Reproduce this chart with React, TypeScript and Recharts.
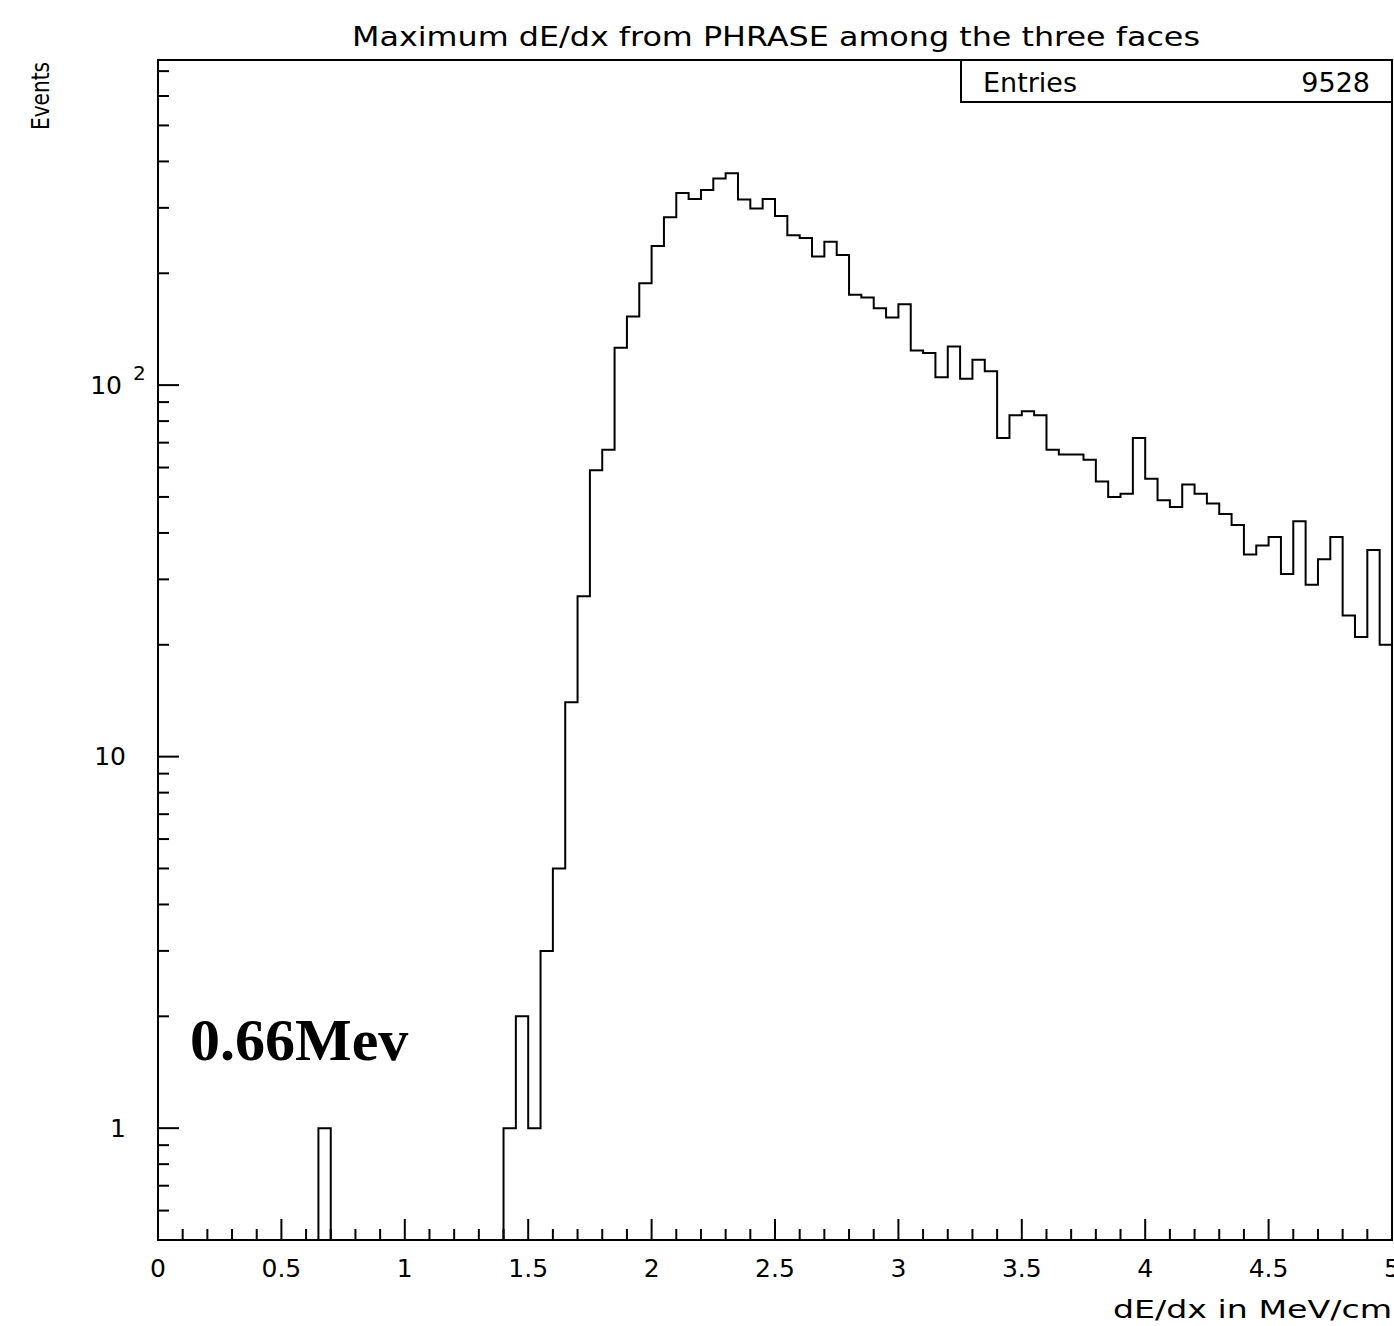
import { ComposedChart, Line, XAxis, YAxis, ReferenceArea } from 'recharts';

const TITLE = 'Maximum dE/dx from PHRASE among the three faces';
const X_LABEL = 'dE/dx in MeV/cm';
const Y_LABEL = 'Events';
const NOTE = '0.66Mev';
const ENTRIES = 9528;

// 100 bins of 0.05 from 0 to 5
const BIN_WIDTH = 0.05;
const COUNTS = [
  0, 0, 0, 0, 0, 0, 0, 0, 0, 0, // 0.00 - 0.50
  0, 0, 0, 1, 0, 0, 0, 0, 0, 0, // 0.50 - 1.00
  0, 0, 0, 0, 0, 0, 0, 0, 1, 2, // 1.00 - 1.50
  1, 3, 5, 14, 27, 59, 67, 126, 153, 188, // 1.50 - 2.00
  237, 283, 329, 317, 335, 360, 372, 316, 299, 317, // 2.00 - 2.50
  285, 253, 249, 222, 243, 224, 175, 172, 161, 152, // 2.50 - 3.00
  165, 124, 122, 105, 127, 104, 117, 109, 72, 83, // 3.00 - 3.50
  85, 83, 67, 65, 65, 63, 55, 50, 51, 72, // 3.50 - 4.00
  56, 49, 47, 54, 51, 48, 45, 42, 35, 37, // 4.00 - 4.50
  39, 31, 43, 29, 34, 39, 24, 21, 36, 20, // 4.50 - 5.00
];

const X_MAJOR = [0, 0.5, 1, 1.5, 2, 2.5, 3, 3.5, 4, 4.5, 5];
const X_MAJOR_LABELS = ['0', '0.5', '1', '1.5', '2', '2.5', '3', '3.5', '4', '4.5', '5'];
const X_TICKS = Array.from({ length: 51 }, (_, i) => i / 10);

const Y_MIN = 0.5;
const Y_MAX = 750;
const Y_MAJOR = [1, 10, 100];
const Y_TICKS = [
  0.6, 0.7, 0.8, 0.9, 1, 2, 3, 4, 5, 6, 7, 8, 9, 10,
  20, 30, 40, 50, 60, 70, 80, 90, 100, 200, 300, 400, 500, 600, 700,
];

const FONT = '"DejaVu Sans", sans-serif';

// step outline: one point per bin low edge, plus the upper edge of the last bin
const data = COUNTS.map((c, i) => ({ x: +(i * BIN_WIDTH).toFixed(2), y: Math.max(c, Y_MIN) }));
data.push({ x: 5, y: Math.max(COUNTS[COUNTS.length - 1], Y_MIN) });

function XTick(props: any) {
  const { x, y, payload } = props;
  const v = payload.value;
  const idx = X_MAJOR.findIndex((m) => Math.abs(m - v) < 1e-6);
  const major = idx >= 0;
  return (
    <g>
      <line x1={x} x2={x} y1={y} y2={y - (major ? 21 : 11)} stroke="#000" strokeWidth={2} />
      {major && (
        <text x={x} y={y + 28} textAnchor="middle" dominantBaseline="central" fontFamily={FONT} fontSize={25}>
          {X_MAJOR_LABELS[idx]}
        </text>
      )}
    </g>
  );
}

function YTick(props: any) {
  const { x, y, payload } = props;
  const v = payload.value;
  const major = Y_MAJOR.includes(v);
  let label = null;
  if (v === 100) {
    label = (
      <g fontFamily={FONT} fontSize={25}>
        <text x={122} y={y} textAnchor="end" dominantBaseline="central">10</text>
        <text x={133} y={y - 12} dominantBaseline="central" fontSize={20}>2</text>
      </g>
    );
  } else if (major) {
    label = (
      <text x={126} y={y} textAnchor="end" dominantBaseline="central" fontFamily={FONT} fontSize={25}>
        {v}
      </text>
    );
  }
  return (
    <g>
      <line x1={x} x2={x + (major ? 21 : 11)} y1={y} y2={y} stroke="#000" strokeWidth={2} />
      {label}
    </g>
  );
}

export default function App() {
  return (
    <div style={{ position: 'absolute', left: 0, top: 0, width: 1394, height: 1326, background: '#fff' }}>
      <ComposedChart width={1394} height={1326} data={data} margin={{ top: 60, right: 2, bottom: 26, left: 8 }}>
        <XAxis
          dataKey="x"
          type="number"
          domain={[0, 5]}
          ticks={X_TICKS}
          interval={0}
          allowDataOverflow
          height={60}
          tickSize={0}
          tickMargin={0}
          tickLine={false}
          axisLine={{ stroke: '#000', strokeWidth: 2 }}
          tick={<XTick />}
        />
        <YAxis
          type="number"
          scale="log"
          domain={[Y_MIN, Y_MAX]}
          ticks={Y_TICKS}
          interval={0}
          allowDataOverflow
          width={150}
          tickSize={0}
          tickMargin={0}
          tickLine={false}
          axisLine={{ stroke: '#000', strokeWidth: 2 }}
          tick={<YTick />}
        />
        <ReferenceArea x1={0} x2={5} y1={Y_MIN} y2={Y_MAX} fill="none" stroke="#000" strokeWidth={2} ifOverflow="visible" />
        <Line type="stepAfter" dataKey="y" stroke="#000" strokeWidth={2} dot={false} isAnimationActive={false} />
      </ComposedChart>
      <svg width={1394} height={1326} style={{ position: 'absolute', left: 0, top: 0, pointerEvents: 'none' }}>
        <text x={776} y={36} textAnchor="middle" dominantBaseline="central" fontFamily={FONT} fontSize={27} textLength={848} lengthAdjust="spacingAndGlyphs">
          {TITLE}
        </text>
        <rect x={961} y={60} width={431} height={42} fill="#fff" stroke="#000" strokeWidth={2} />
        <text x={983} y={82} dominantBaseline="central" fontFamily={FONT} fontSize={27}>Entries</text>
        <text x={1370} y={82} textAnchor="end" dominantBaseline="central" fontFamily={FONT} fontSize={27}>{ENTRIES}</text>
        <text transform="translate(40,96) rotate(-90)" textAnchor="middle" dominantBaseline="central" fontFamily={FONT} fontSize={25} textLength={68} lengthAdjust="spacingAndGlyphs">
          {Y_LABEL}
        </text>
        <text x={1392} y={1309} textAnchor="end" dominantBaseline="central" fontFamily={FONT} fontSize={25} textLength={279} lengthAdjust="spacingAndGlyphs">
          {X_LABEL}
        </text>
        <text x={190} y={1060} fontFamily='"Liberation Serif", serif' fontWeight="bold" fontSize={60}>{NOTE}</text>
      </svg>
    </div>
  );
}
